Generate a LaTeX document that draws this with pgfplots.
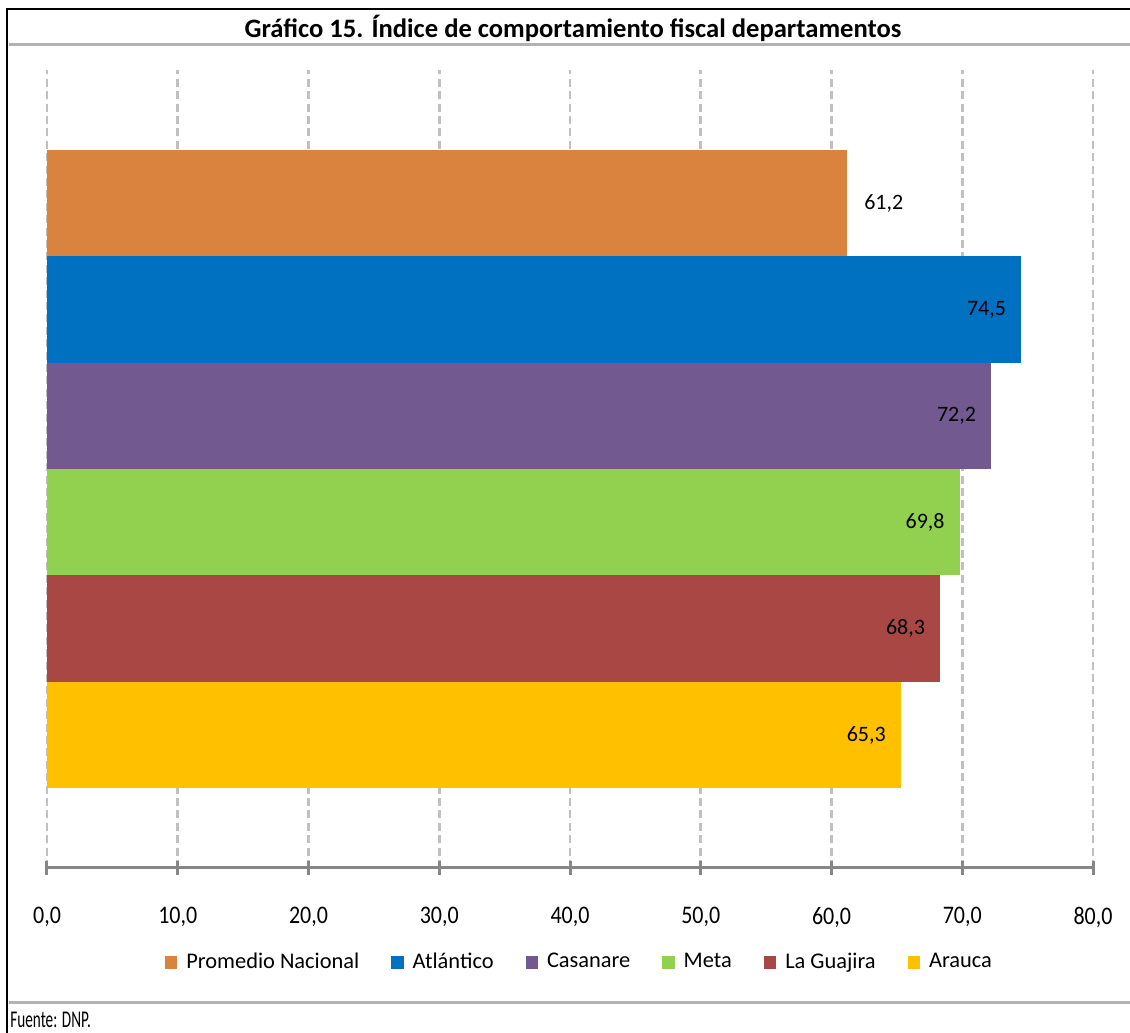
\documentclass[border=0pt]{standalone}
\usepackage{fontspec}
\setmainfont{Carlito}
\usepackage{pgfplots}
\pgfplotsset{compat=1.18}
\definecolor{cProm}{HTML}{DA833F}
\definecolor{cAtl}{HTML}{0070C0}
\definecolor{cCas}{HTML}{725A91}
\definecolor{cMet}{HTML}{92D050}
\definecolor{cGua}{HTML}{A84744}
\definecolor{cAra}{HTML}{FFC000}
\definecolor{axgray}{HTML}{868686}
\definecolor{gridgray}{HTML}{C0C0C0}
\begin{document}
\begin{tikzpicture}
\begin{axis}[
  scale only axis, width=523pt, height=399pt,
  xmin=0, xmax=80, ymin=-1.25, ymax=6.25,
  xbar, bar width=1, bar shift=0pt,
  axis y line=none, axis x line*=bottom,
  axis line style={axgray, line width=1.5pt},
  xtick={0,10,...,80}, ytick=\empty,
  xtick align=center, major tick length=7pt,
  xtick style={axgray, line width=1.5pt},
  xmajorgrids,
  major grid style={gridgray, line width=1.3pt, dash pattern=on 4pt off 2.2pt},
  xticklabel style={font=\fontsize{11}{13}\selectfont, yshift=-12.5pt},
  xticklabel={\scalebox{1}[1.15]{\pgfmathprintnumber{\tick}}},
  /pgf/number format/.cd, fixed, fixed zerofill, precision=1, use comma, assume math mode=true,
  /pgfplots/.cd,
  nodes near coords={\scalebox{1}[1.15]{\pgfmathprintnumber{\pgfplotspointmeta}}},
  nodes near coords style={font=\fontsize{11}{13}\selectfont, text=black},
  legend columns=6,
  legend style={draw=none, at={(0.51,-0.118)}, anchor=center, font=\fontsize{11.2}{13}\selectfont,
    /tikz/every even column/.append style={column sep=14pt},
    /tikz/every odd column/.append style={column sep=2.5pt}},
  legend image code/.code={\fill[#1] (0pt,-3.2pt) rectangle (6.2pt,3.2pt);},
]
\addplot[fill=cProm, draw=none, nodes near coords, every node near coord/.append style={anchor=west, xshift=5pt}] coordinates {(61.2,5)};
\addplot[fill=cAtl, draw=none, nodes near coords, every node near coord/.append style={anchor=east, xshift=-4pt}] coordinates {(74.5,4)};
\addplot[fill=cCas, draw=none, nodes near coords, every node near coord/.append style={anchor=east, xshift=-4pt}] coordinates {(72.2,3)};
\addplot[fill=cMet, draw=none, nodes near coords, every node near coord/.append style={anchor=east, xshift=-4pt}] coordinates {(69.8,2)};
\addplot[fill=cGua, draw=none, nodes near coords, every node near coord/.append style={anchor=east, xshift=-4pt}] coordinates {(68.3,1)};
\addplot[fill=cAra, draw=none, nodes near coords, every node near coord/.append style={anchor=east, xshift=-4pt}] coordinates {(65.3,0)};
\legend{Promedio Nacional, Atlántico, Casanare, Meta, La Guajira, Arauca}
\end{axis}
\begin{scope}[x=0.5pt, y=-0.5pt, shift={(-23.5pt,434pt)}]
\useasboundingbox (0,0) rectangle (1130,1033);
\draw[black, line width=1pt] (7,1033) -- (7,9) -- (1130,9);
\draw[gray!60, line width=1.5pt] (9,45) -- (1130,45);
\draw[gray!60, line width=1.5pt] (9,1002) -- (1130,1002);
\node[font=\bfseries\fontsize{13.3}{15}\selectfont] at (573,28) {Gráfico 15. Índice de comportamiento fiscal departamentos};
\node[anchor=west, font=\fontsize{10}{12}\selectfont, inner sep=0pt] at (10,1020) {\scalebox{0.76}[1.2]{Fuente: DNP.}};
\end{scope}
\end{tikzpicture}
\end{document}
